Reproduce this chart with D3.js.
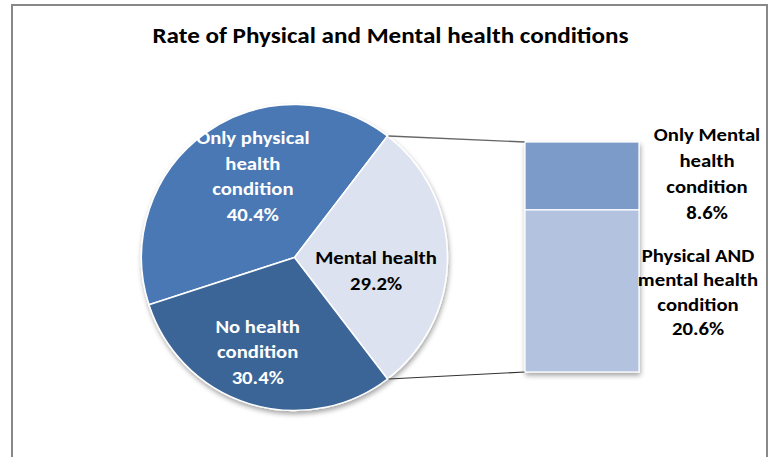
<!DOCTYPE html>
<html>
<head>
<meta charset="utf-8">
<script src="https://cdn.jsdelivr.net/npm/d3@7"></script>
<style>
  body { margin: 0; background: #fff; }
  text { font-family: Calibri, Carlito, "Liberation Sans", Arial, sans-serif; font-weight: bold; }
</style>
</head>
<body>
<script>
// chart data
var pieLabels = [["Only physical", "health", "condition"], ["Mental health"], ["No health", "condition"]],
    pieValues = [40.4, 29.2, 30.4],
    splitIndex = 1; // the pie slice that is broken out into the bar
var barLabels = [["Physical AND", "mental health", "condition"], ["Only Mental", "health", "condition"]],
    barValues = [20.6, 8.6];
var title = "Rate of Physical and Mental health conditions";

// set up variables
var width = 770, height = 457,
    cx = 294.5, cy = 257.5, radius = 153,
    bar = {left: 525, right: 639, top: 142, bottom: 372},
    textStretch = 1.12; // the source text is a little wider than Carlito

var pieColors = ["#4878b4", "#dce2ef", "#3b6596"],
    pieTextColors = ["#fff", "#000", "#fff"],
    barColors = ["#b3c3df", "#7d9bc9"];

var svg = d3.select("body")
    .append("svg")
        .attr("width", width)
        .attr("height", height);

var defs = svg.append("defs");
var shadow = defs.append("filter")
    .attr("id", "shadow")
    .attr("x", "-20%").attr("y", "-20%")
    .attr("width", "140%").attr("height", "140%");
shadow.append("feDropShadow")
    .attr("dx", 1).attr("dy", 3)
    .attr("stdDeviation", 2.5)
    .attr("flood-color", "#000")
    .attr("flood-opacity", 0.35);

// multi-line centred text block, stretched sideways
function textBlock(parent, lines, x, y0, lineH, size, stretch, color) {
    var t = parent.append("text")
        .attr("transform", "translate(" + x + ",0) scale(" + stretch + ",1)")
        .attr("text-anchor", "middle")
        .style("font-size", size + "px")
        .attr("fill", color);
    t.selectAll("tspan")
        .data(lines)
        .enter()
        .append("tspan")
            .attr("x", 0)
            .attr("y", function(s, j) { return y0 + j * lineH; })
            .text(function(s) { return s; });
    return t;
}

// chart border
svg.append("rect")
    .attr("x", 12).attr("y", 5)
    .attr("width", 755).attr("height", height + 10)
    .attr("fill", "none")
    .attr("stroke", "#888")
    .attr("stroke-width", 2);

// title
textBlock(svg, [title], 390.5, 43, 0, 21.5, 1.17, "#000");

// pie, with the split slice centred on 3 o'clock
var total = d3.sum(pieValues);
var before = d3.sum(pieValues.slice(0, splitIndex));
var startAngle = Math.PI / 2 - (pieValues[splitIndex] / 2 + before) / total * 2 * Math.PI;

var pie = d3.pie().sort(null)
    .startAngle(startAngle)
    .endAngle(startAngle + 2 * Math.PI);
var arcs = pie(pieValues);

var arc = d3.arc().innerRadius(0).outerRadius(radius);
var labelArc = d3.arc().innerRadius(92).outerRadius(92);
var labelNudge = [[11.5, -6], [-10.5, 13.5], [-9.5, 7]];

var pieG = svg.append("g")
    .attr("transform", "translate(" + cx + "," + cy + ")");

pieG.append("g")
    .attr("filter", "url(#shadow)")
    .selectAll("path")
    .data(arcs)
    .enter()
    .append("path")
        .attr("d", arc)
        .attr("fill", function(d, i) { return pieColors[i]; })
        .attr("stroke", "#fff")
        .attr("stroke-width", 1.5)
        .attr("stroke-linejoin", "round");

var pieLineH = 25.7, labelFont = 18.5;
arcs.forEach(function(d, i) {
    var c = labelArc.centroid(d);
    var lines = pieLabels[i].concat([d3.format(".1f")(d.data) + "%"]);
    var y0 = c[1] + labelNudge[i][1] - (lines.length - 1) * pieLineH / 2 + labelFont * 0.33;
    textBlock(pieG, lines, c[0] + labelNudge[i][0], y0, pieLineH, labelFont, textStretch, pieTextColors[i]);
});

// bar of the split slice
var y = d3.scaleLinear()
    .domain([0, d3.sum(barValues)])
    .range([bar.bottom, bar.top]);
var stack = d3.cumsum(barValues);

// connector lines from the slice edges to the bar
var split = arcs[splitIndex];
function edge(a) { return [cx + radius * Math.sin(a), cy - radius * Math.cos(a)]; }
var p1 = edge(split.startAngle), p2 = edge(split.endAngle);
svg.append("line")
    .attr("x1", p1[0] + 1).attr("y1", p1[1])
    .attr("x2", bar.left).attr("y2", y(d3.sum(barValues)))
    .attr("stroke", "#666").attr("stroke-width", 1.3);
svg.append("line")
    .attr("x1", p2[0] + 1).attr("y1", p2[1])
    .attr("x2", bar.left).attr("y2", y(0))
    .attr("stroke", "#333").attr("stroke-width", 1.2);

svg.append("g")
    .attr("filter", "url(#shadow)")
    .selectAll("rect")
    .data(barValues)
    .enter()
    .append("rect")
        .attr("x", bar.left)
        .attr("width", bar.right - bar.left)
        .attr("y", function(d, i) { return y(stack[i]); })
        .attr("height", function(d, i) { return y(stack[i] - d) - y(stack[i]); })
        .attr("fill", function(d, i) { return barColors[i]; })
        .attr("stroke", "#fff")
        .attr("stroke-width", 1.2);

// bar labels, to the right of the bar
var barLabelX = [698, 707],
    barLabelY = [262, 141],
    barLineH = [24.5, 26];
barValues.forEach(function(d, i) {
    var lines = barLabels[i].concat([d3.format(".1f")(d) + "%"]);
    textBlock(svg, lines, barLabelX[i], barLabelY[i], barLineH[i], labelFont, textStretch, "#000");
});
</script>
</body>
</html>
